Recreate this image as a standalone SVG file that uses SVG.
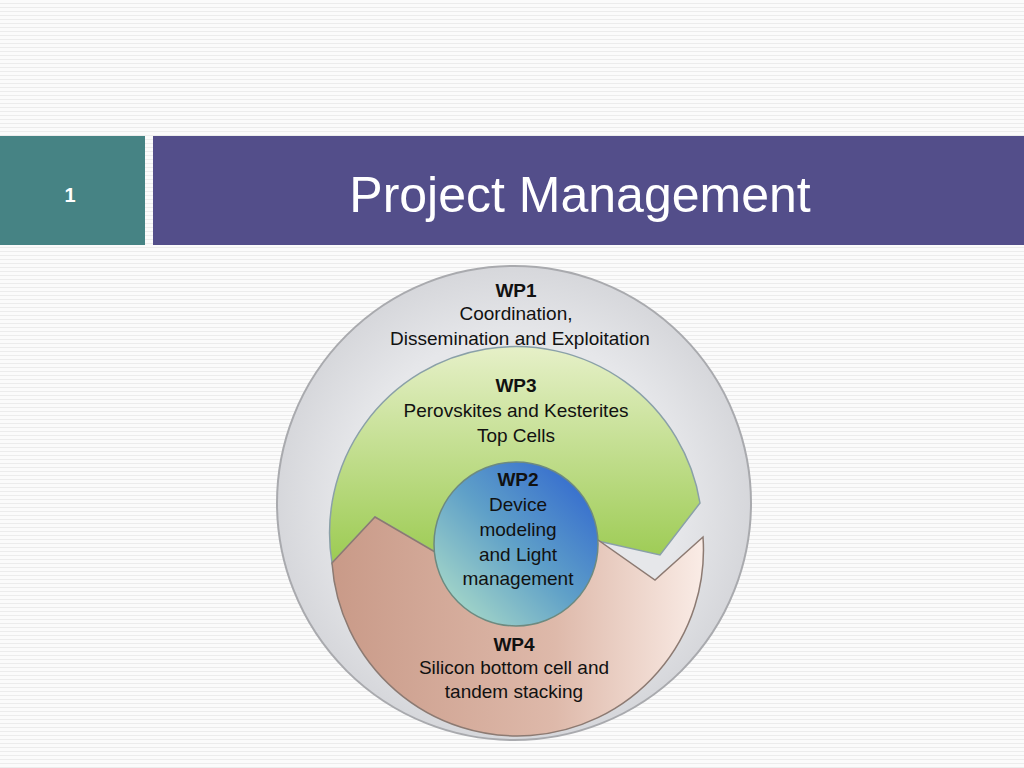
<svg xmlns="http://www.w3.org/2000/svg" width="1024" height="768" viewBox="0 0 1024 768">
<defs>
<pattern id="bg" width="8" height="4" patternUnits="userSpaceOnUse"><rect width="8" height="4" fill="#fbfbfb"/><rect y="3" width="8" height="1" fill="#ececec"/></pattern>
<linearGradient id="g3" x1="0" y1="0" x2="0" y2="1"><stop offset="0" stop-color="#e6f0c8"/><stop offset="1" stop-color="#9ccb52"/></linearGradient>
<linearGradient id="g4" x1="0" y1="0" x2="1" y2="0"><stop offset="0" stop-color="#c99a88"/><stop offset="0.6" stop-color="#deb9aa"/><stop offset="1" stop-color="#faece6"/></linearGradient>
<linearGradient id="g2" x1="0" y1="1" x2="1" y2="0"><stop offset="0" stop-color="#b8e6c8"/><stop offset="0.5" stop-color="#5fa0c8"/><stop offset="1" stop-color="#2b5fd0"/></linearGradient>
<radialGradient id="g1" cx="0.5" cy="0.5" r="0.5"><stop offset="0.7" stop-color="#e6e7ea"/><stop offset="1" stop-color="#d6d7db"/></radialGradient>
<style>.t{font-family:"Century Gothic","URW Gothic","Liberation Sans",sans-serif;font-size:19px;fill:#111;text-anchor:middle}.b{font-weight:bold}</style>
</defs>
<rect width="1024" height="768" fill="url(#bg)"/>
<g id="header">
<rect x="0" y="136" width="145" height="109" fill="#468384"/>
<rect x="153" y="136" width="871" height="109" fill="#534e8a"/>
<text x="70" y="202" font-family="Liberation Sans,sans-serif" font-size="20" font-weight="bold" fill="#fff" text-anchor="middle">1</text>
<text x="580" y="212" font-family="'URW Gothic','Century Gothic','Liberation Sans',sans-serif" font-size="50" fill="#fff" text-anchor="middle">Project Management</text>
</g>
<g id="wp1"><circle cx="514" cy="503" r="237" fill="url(#g1)" stroke="#a9aaae" stroke-width="2"/>
<text class="t b" x="516" y="297">WP1</text><text class="t" x="516" y="320">Coordination,</text><text class="t" x="520" y="345">Dissemination and Exploitation</text></g>
<g id="wp3"><path d="M332,563 A183,183 0 0 1 700,503 L660,555 L598,541 L437,553 L375,517 Z" fill="url(#g3)" stroke="#8aa0a8" stroke-width="1.5"/>
<text class="t b" x="516" y="392">WP3</text><text class="t" x="516" y="417">Perovskites and Kesterites</text><text class="t" x="516" y="442">Top Cells</text></g>
<g id="wp4"><path d="M332,563 L375,517 L440,555 L598,540 L655,580 L703,537 A183,183 0 1 1 332,563 Z" fill="url(#g4)" stroke="#8c7a72" stroke-width="1.5"/>
<text class="t b" x="514" y="651">WP4</text><text class="t" x="514" y="674">Silicon bottom cell and</text><text class="t" x="514" y="698">tandem stacking</text></g>
<g id="wp2"><circle cx="516" cy="544" r="82" fill="url(#g2)" stroke="#6d8a80" stroke-width="1.5"/>
<text class="t b" x="518" y="486">WP2</text><text class="t" x="518" y="511">Device</text><text class="t" x="518" y="536">modeling</text><text class="t" x="518" y="561">and Light</text><text class="t" x="518" y="585">management</text></g>
<g id="connectors"/>
</svg>
